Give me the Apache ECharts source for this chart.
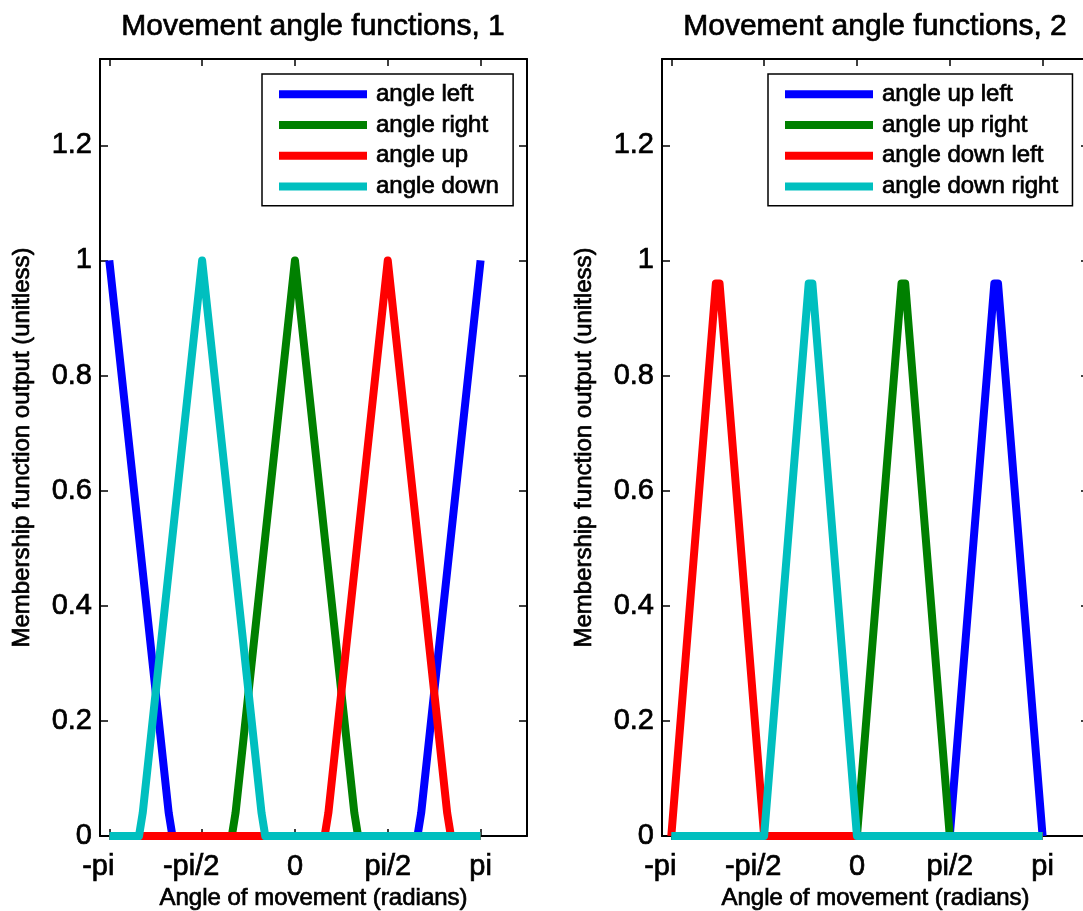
<!DOCTYPE html>
<html>
<head>
<meta charset="utf-8">
<script src="https://cdn.jsdelivr.net/npm/echarts@6/dist/echarts.min.js"></script>
<style>
html,body{margin:0;padding:0;background:#fff;}
#chart{width:1083px;height:911px;}
</style>
</head>
<body>
<div id="chart"></div>
<script>
// ---- data ----
var xTickValues = [-3.1416, -1.5708, 0, 1.5708, 3.1416];
var xTickLabels = ['-pi', '-pi/2', '0', 'pi/2', 'pi'];
var yTickValues = [0, 0.2, 0.4, 0.6, 0.8, 1, 1.2];

var titles = ['Movement angle functions, 1', 'Movement angle functions, 2'];
var xAxisName = 'Angle of movement (radians)';
var yAxisName = 'Membership function output (unitless)';

var names1 = ['angle left', 'angle right', 'angle up', 'angle down'];
var names2 = ['angle up left', 'angle up right', 'angle down left', 'angle down right'];
var colors = ['#0000FF', '#008000', '#FF0000', '#00BFBF'];

// panel 1 vertices
var p1LeftX  = [-3.1416, -2.1363, -2.0735, 2.0735, 2.1363, 3.1416];
var p1LeftY  = [1, 0.04, 0, 0, 0.04, 1];
var p1RightX = [-3.1416, -1.0681, -1.0053, 0, 1.0053, 1.0681, 3.1416];
var p1RightY = [0, 0, 0.04, 1, 0.04, 0, 0];
var p1UpX    = [-3.1416, 0.5027, 0.5655, 1.5708, 2.5761, 2.6389, 3.1416];
var p1UpY    = [0, 0, 0.04, 1, 0.04, 0, 0];
var p1DownX  = [-3.1416, -2.6389, -2.5761, -1.5708, -0.5655, -0.5027, 3.1416];
var p1DownY  = [0, 0, 0.04, 1, 0.04, 0, 0];

// panel 2 vertices
var p2UpLeftX    = [-3.1416, 1.5708, 2.3248, 2.3876, 3.1416];
var p2UpLeftY    = [0, 0, 0.96, 0.96, 0];
var p2UpRightX   = [-3.1416, 0, 0.7540, 0.8168, 1.5708, 3.1416];
var p2UpRightY   = [0, 0, 0.96, 0.96, 0, 0];
var p2DownLeftX  = [-3.1416, -2.3876, -2.3248, -1.5708, 3.1416];
var p2DownLeftY  = [0, 0.96, 0.96, 0, 0];
var p2DownRightX = [-3.1416, -1.5708, -0.8168, -0.7540, 0, 3.1416];
var p2DownRightY = [0, 0, 0.96, 0.96, 0, 0];

var X_MIN = -3.299, X_MAX = 3.927, Y_MIN = 0, Y_MAX = 1.35;

// ---- build chart ----
var FONT = '"Liberation Sans", Arial, Helvetica, sans-serif';
function txt(size, extra) {
  var o = {fontSize: size, fontFamily: FONT, color: '#000', fontWeight: 'normal',
           textBorderColor: '#000', textBorderWidth: 0.7};
  if (extra) for (var k in extra) o[k] = extra[k];
  return o;
}
function pairs(xs, ys) { return xs.map(function (x, i) { return [x, ys[i]]; }); }
function fmtX(v) {
  for (var i = 0; i < xTickValues.length; i++) {
    if (Math.abs(v - xTickValues[i]) < 1e-6) {
      var s = xTickLabels[i];
      return s.charAt(0) === '-' ? '{neg|' + s + '}' : '{pos|' + s + '}';
    }
  }
  return '';
}
var grids = [
  {left: 100, top: 59, width: 427, height: 777, containLabel: false, outerBoundsMode: 'none'},
  {left: 662, top: 59, width: 427, height: 777, containLabel: false, outerBoundsMode: 'none'}
];
var lineAx = {show: true, onZero: false, lineStyle: {color: '#000', width: 2}};
var xAxes = [], yAxes = [];
grids.forEach(function (g, gi) {
  xAxes.push({
    gridIndex: gi, type: 'value', position: 'bottom', min: X_MIN, max: X_MAX,
    axisLine: lineAx, splitLine: {show: false},
    axisTick: {show: true, inside: true, length: 7, customValues: xTickValues, lineStyle: {color: '#000', width: 1.5}},
    axisLabel: Object.assign({
      show: true, customValues: xTickValues, formatter: fmtX, margin: 16,
      rich: {neg: txt(29, {padding: [0, 22, 0, 0]}), pos: txt(29)}
    }, txt(29)),
    name: xAxisName, nameLocation: 'middle', nameGap: 48,
    nameTextStyle: txt(24)
  });
  xAxes.push({
    gridIndex: gi, type: 'value', position: 'top', min: X_MIN, max: X_MAX,
    axisLine: lineAx, splitLine: {show: false},
    axisTick: {show: true, inside: true, length: 7, customValues: xTickValues, lineStyle: {color: '#000', width: 1.5}},
    axisLabel: {show: false}
  });
  yAxes.push({
    gridIndex: gi, type: 'value', position: 'left', min: Y_MIN, max: Y_MAX,
    axisLine: lineAx, splitLine: {show: false},
    axisTick: {show: true, inside: true, length: 8, customValues: yTickValues, lineStyle: {color: '#000', width: 1.5}},
    axisLabel: Object.assign({show: true, customValues: yTickValues, margin: 8}, txt(29)),
    name: yAxisName, nameLocation: 'middle', nameGap: 66,
    nameTextStyle: txt(24)
  });
  yAxes.push({
    gridIndex: gi, type: 'value', position: 'right', min: Y_MIN, max: Y_MAX,
    axisLine: lineAx, splitLine: {show: false},
    axisTick: {show: true, inside: true, length: 8, customValues: yTickValues, lineStyle: {color: '#000', width: 1.5}},
    axisLabel: {show: false}
  });
});

var panel1 = [pairs(p1LeftX, p1LeftY), pairs(p1RightX, p1RightY), pairs(p1UpX, p1UpY), pairs(p1DownX, p1DownY)];
var panel2 = [pairs(p2UpLeftX, p2UpLeftY), pairs(p2UpRightX, p2UpRightY), pairs(p2DownLeftX, p2DownLeftY), pairs(p2DownRightX, p2DownRightY)];

var series = [];
[[panel1, names1, 0], [panel2, names2, 1]].forEach(function (p) {
  p[0].forEach(function (d, i) {
    series.push({
      type: 'line', name: p[1][i], data: d,
      xAxisIndex: p[2] * 2, yAxisIndex: p[2] * 2,
      showSymbol: false, symbol: 'none', color: colors[i],
      lineStyle: {width: 8, color: colors[i], cap: 'butt', join: 'round'},
      itemStyle: {color: colors[i]},
      z: 2 + i, animation: false, silent: true
    });
  });
});

function legendFor(names, left) {
  return {
    data: names, left: left, top: 74, orient: 'vertical', icon: 'rect',
    itemWidth: 88, itemHeight: 8, itemGap: 6, padding: [8, 14, 7, 17],
    borderColor: '#000', borderWidth: 1.5, backgroundColor: '#fff',
    itemStyle: {borderWidth: 0},
    textStyle: txt(24, {lineHeight: 24, padding: [0, 0, 0, 4]}),
    selectedMode: false
  };
}

var chart = echarts.init(document.getElementById('chart'), null, {renderer: 'canvas'});
chart.setOption({
  animation: false,
  backgroundColor: '#fff',
  title: [
    {text: titles[0], left: 313, top: 12, textAlign: 'center', padding: 0, textStyle: txt(30)},
    {text: titles[1], left: 875, top: 12, textAlign: 'center', padding: 0, textStyle: txt(30)}
  ],
  legend: [legendFor(names1, 262), legendFor(names2, 768)],
  grid: grids,
  xAxis: xAxes,
  yAxis: yAxes,
  series: series
});
</script>
</body>
</html>
